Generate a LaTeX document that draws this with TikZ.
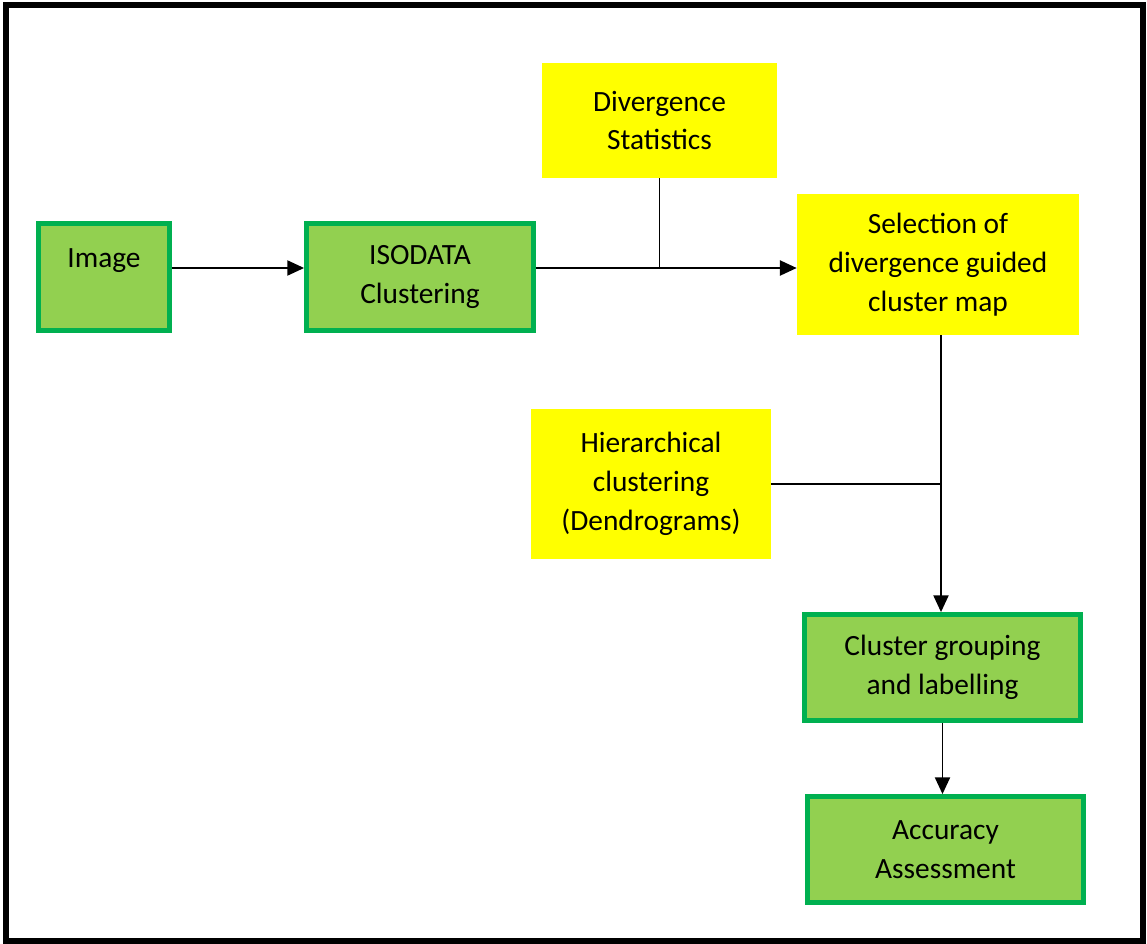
\documentclass[tikz,border=0pt]{standalone}
\usepackage{fontspec}
\setmainfont{Carlito}
\usetikzlibrary{arrows.meta,calc}
\definecolor{boxgreen}{HTML}{92D050}
\definecolor{edgegreen}{HTML}{00B050}
\definecolor{boxyellow}{HTML}{FFFF00}
\newcommand\gcol{boxgreen}
\newcommand\ycol{boxyellow}

\begin{document}
\begin{tikzpicture}[x=0.025cm,y=-0.025cm,
      greenbox/.style={draw=edgegreen,fill=\gcol,line width=0.12cm,align=center,inner sep=0pt},
      yellowbox/.style={fill=\ycol,align=center,inner sep=0pt},
      link/.style={line width=0.04cm,>={Triangle[length=0.42cm,width=0.38cm]}},
      font=\fontsize{20.9}{27.6}\selectfont
    ]
    \useasboundingbox (0,0) rectangle (1147,943);
    \draw[line width=0.15cm] (6,5) rectangle (1143,941);

    \node[greenbox, minimum width=3.275cm, minimum height=2.675cm] (image) at (104,277) {Image\\\mbox{}};
    \node[greenbox, minimum width=5.675cm, minimum height=2.675cm] (isodata) at (420,277) {ISODATA\\Clustering};
    \node[yellowbox, minimum width=5.875cm, minimum height=2.875cm] (divstat) at (659.5,120.5) {Divergence\\Statistics};
    \node[yellowbox, minimum width=7.05cm, minimum height=3.525cm] (selection) at (938,264.5) {Selection of\\divergence guided\\cluster map};
    \node[yellowbox, minimum width=6cm, minimum height=3.75cm] (hier) at (651,484) {Hierarchical\\clustering\\(Dendrograms)};
    \node[greenbox, minimum width=6.9cm, minimum height=2.65cm] (grouping) at (942.5,667.5) {Cluster grouping\\and labelling};
    \node[greenbox, minimum width=6.9cm, minimum height=2.65cm] (accuracy) at (945.5,849.5) {Accuracy\\Assessment};

    \coordinate (imgout) at ([yshift=0.225cm]image.east);
    \coordinate (isoout) at ([yshift=0.225cm]isodata.east);
    \coordinate (selout) at ([xshift=0.075cm]selection.south);

    \draw[link, ->] (imgout) -- (imgout -| isodata.west);
    \draw[link, ->] (isoout) -- (isoout -| selection.west);
    \draw[link] (divstat.south) -- (divstat.south |- isoout);

    \draw[link, ->] (selout) -- (selout |- grouping.north);
    \draw[link] (hier.east) -- (hier.east -| selout);
    \draw[link, ->] (grouping.south) -- (grouping.south |- accuracy.north);
  \end{tikzpicture}
\end{document}
